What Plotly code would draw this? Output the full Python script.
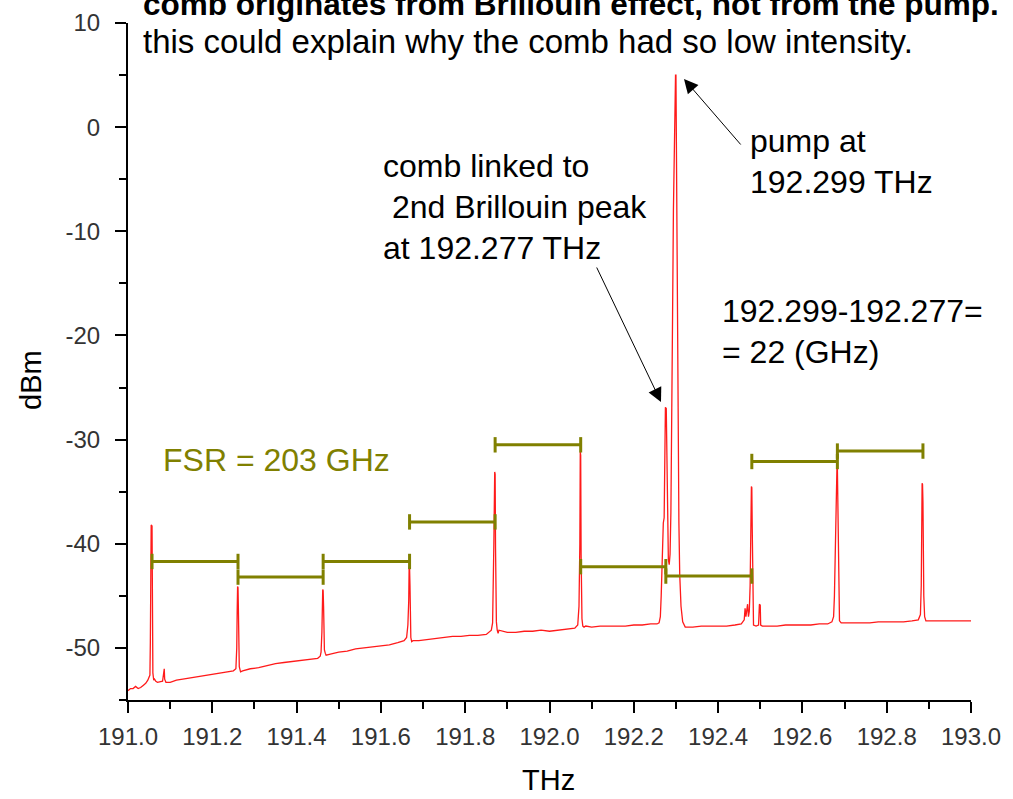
import plotly.graph_objects as go

# ---------------- data ----------------
freq_thz = [
    191.000, 191.006, 191.012, 191.018, 191.024, 191.030, 191.036, 191.042, 191.047, 191.050,
    191.052, 191.053, 191.054, 191.055, 191.057, 191.058, 191.059, 191.061, 191.063, 191.066,
    191.070, 191.082, 191.084, 191.086, 191.087, 191.090, 191.100, 191.115, 191.130, 191.145,
    191.160, 191.175, 191.190, 191.205, 191.220, 191.235, 191.250, 191.256, 191.258, 191.259,
    191.260, 191.261, 191.262, 191.263, 191.264, 191.267, 191.272, 191.290, 191.310, 191.330,
    191.350, 191.370, 191.390, 191.410, 191.430, 191.450, 191.456, 191.458, 191.460, 191.462,
    191.463, 191.464, 191.465, 191.466, 191.468, 191.470, 191.480, 191.500, 191.520, 191.540,
    191.560, 191.580, 191.600, 191.620, 191.640, 191.655, 191.661, 191.664, 191.666, 191.667,
    191.668, 191.669, 191.670, 191.671, 191.673, 191.676, 191.690, 191.710, 191.730, 191.750,
    191.770, 191.790, 191.810, 191.830, 191.850, 191.862, 191.865, 191.868, 191.870, 191.871,
    191.872, 191.873, 191.874, 191.876, 191.878, 191.880, 191.900, 191.920, 191.940, 191.960,
    191.980, 192.000, 192.020, 192.040, 192.060, 192.067, 192.070, 192.072, 192.073, 192.074,
    192.075, 192.076, 192.077, 192.079, 192.082, 192.086, 192.100, 192.120, 192.140, 192.160,
    192.180, 192.200, 192.220, 192.240, 192.255, 192.260, 192.263, 192.265, 192.267, 192.270,
    192.272, 192.274, 192.275, 192.277, 192.278, 192.280, 192.282, 192.284, 192.286, 192.288,
    192.290, 192.292, 192.294, 192.296, 192.298, 192.299, 192.300, 192.301, 192.303, 192.305,
    192.307, 192.309, 192.312, 192.316, 192.322, 192.340, 192.360, 192.380, 192.400, 192.420,
    192.440, 192.455, 192.462, 192.464, 192.466, 192.468, 192.470, 192.472, 192.474, 192.476,
    192.477, 192.478, 192.479, 192.480, 192.481, 192.482, 192.484, 192.490, 192.496, 192.498,
    192.500, 192.501, 192.505, 192.520, 192.540, 192.560, 192.580, 192.600, 192.620, 192.640,
    192.660, 192.670, 192.674, 192.676, 192.678, 192.680, 192.682, 192.683, 192.684, 192.685,
    192.686, 192.688, 192.692, 192.700, 192.720, 192.740, 192.760, 192.780, 192.800, 192.820,
    192.840, 192.860, 192.875, 192.880, 192.882, 192.884, 192.885, 192.886, 192.887, 192.888,
    192.890, 192.893, 192.900, 192.920, 192.940, 192.960, 192.980, 193.000,
]
power_dbm = [
    -54.1, -53.9, -53.9, -53.7, -53.9, -53.8, -53.6, -53.4, -53.1, -52.8,
    -52.6, -49.5, -44.0, -38.2, -38.3, -47.0, -52.4, -53.1, -53.0, -53.2,
    -53.3, -53.2, -52.2, -52.0, -53.0, -53.3, -53.3, -53.1, -53.0, -52.9,
    -52.8, -52.7, -52.6, -52.5, -52.4, -52.3, -52.2, -52.0, -50.0, -46.5,
    -44.1, -44.2, -46.5, -48.5, -51.8, -52.3, -52.2, -52.0, -51.9, -51.7,
    -51.5, -51.4, -51.3, -51.2, -51.1, -51.0, -50.8, -50.4, -48.5, -44.4,
    -44.5, -46.0, -48.8, -50.2, -50.5, -50.7, -50.6, -50.4, -50.3, -50.1,
    -50.0, -49.9, -49.8, -49.7, -49.5, -49.3, -49.0, -47.8, -45.5, -42.2,
    -42.3, -44.0, -47.0, -49.0, -49.4, -49.3, -49.3, -49.2, -49.1, -49.0,
    -48.9, -48.9, -48.8, -48.8, -48.7, -48.3, -47.6, -40.0, -33.1, -33.3,
    -40.5, -45.0, -47.5, -48.3, -48.6, -48.3, -48.5, -48.5, -48.4, -48.4,
    -48.3, -48.4, -48.3, -48.2, -48.1, -47.8, -46.0, -40.0, -31.2, -31.5,
    -41.0, -45.0, -47.2, -47.9, -48.0, -47.9, -48.0, -47.9, -47.9, -47.9,
    -47.9, -47.8, -47.8, -47.7, -47.7, -47.6, -47.0, -45.0, -42.0, -38.0,
    -37.5, -30.0, -26.9, -27.0, -31.0, -38.0, -41.5, -42.0, -41.0, -37.0,
    -30.0, -18.0, -8.0, -1.5, 3.0, 5.0, 5.0, -1.5, -15.0, -30.0,
    -38.0, -43.0, -46.0, -47.5, -48.0, -48.0, -47.9, -47.9, -47.9, -47.9,
    -47.8, -47.7, -47.3, -46.2, -47.0, -46.0, -45.8, -47.0, -46.5, -44.0,
    -40.0, -38.0, -34.5, -34.6, -38.5, -45.0, -47.8, -47.9, -47.8, -45.8,
    -45.9, -47.8, -47.9, -47.9, -47.9, -47.8, -47.8, -47.8, -47.8, -47.7,
    -47.7, -47.5, -47.0, -45.0, -40.0, -35.0, -32.6, -32.7, -37.0, -42.0,
    -46.5, -47.4, -47.6, -47.6, -47.6, -47.6, -47.6, -47.5, -47.5, -47.5,
    -47.5, -47.4, -47.3, -46.8, -44.0, -34.2, -34.3, -36.0, -41.0, -45.0,
    -47.0, -47.4, -47.4, -47.4, -47.4, -47.4, -47.4, -47.4,
]

# FSR markers: from one comb line to the next, at a given level
fsr_start = [191.057, 191.261, 191.463, 191.668, 191.871, 192.074, 192.276, 192.480, 192.683]
fsr_end = [191.261, 191.463, 191.668, 191.871, 192.074, 192.276, 192.480, 192.683, 192.886]
fsr_level = [-41.7, -43.2, -41.7, -37.9, -30.5, -42.2, -43.1, -32.1, -31.1]

x_ticks = [191.0, 191.2, 191.4, 191.6, 191.8, 192.0, 192.2, 192.4, 192.6, 192.8, 193.0]
y_ticks = [-50, -40, -30, -20, -10, 0, 10]

title_lines = [
    "<b>comb originates from Brillouin effect, not from the pump.</b>",
    "this could explain why the comb had so low intensity.",
]
comb_note = ["comb linked to", " 2nd Brillouin peak", "at 192.277 THz"]
pump_note = ["pump at", "192.299 THz"]
diff_note = ["192.299-192.277=", "= 22 (GHz)"]
fsr_note = "FSR = 203 GHz"
x_title = "THz"
y_title = "dBm"

# ---------------- figure ----------------
W, H = 1013, 799
L, R, T, B = 128, 42, 23, 99
PW, PH = W - L - R, H - T - B
FONT = "Arial, Liberation Sans, sans-serif"
OLIVE = "#808000"


def px(xp):
    return (xp - L) / PW


def py(yp):
    return (H - B - yp) / PH


fig = go.Figure()

fig.add_trace(go.Scatter(
    x=freq_thz, y=power_dbm, mode="lines",
    line=dict(color="#ff1a1a", width=1.3), showlegend=False, hoverinfo="skip",
))

for x0, x1, lv in zip(fsr_start, fsr_end, fsr_level):
    fig.add_trace(go.Scatter(
        x=[x0, x1], y=[lv, lv], mode="lines+markers",
        line=dict(color=OLIVE, width=3),
        marker=dict(symbol="line-ns", size=11, line=dict(color=OLIVE, width=3)),
        showlegend=False, hoverinfo="skip", cliponaxis=False,
    ))

ann = []


def text(s, x, y, size=32, color="black", xanchor="left", angle=0):
    ann.append(dict(text=s, x=px(x), y=py(y), xref="paper", yref="paper",
                    xanchor=xanchor, yanchor="middle", showarrow=False,
                    textangle=angle,
                    font=dict(family=FONT, size=size, color=color)))


text(title_lines[0], 141, 4, size=31.5)
text(title_lines[1], 141, 42, size=33)
for i, s in enumerate(comb_note):
    text(s, 381, 166 + i * 41)
for i, s in enumerate(pump_note):
    text(s, 748, 141 + i * 41)
for i, s in enumerate(diff_note):
    text(s, 720, 311 + i * 41)
text(fsr_note, 161, 460, color=OLIVE)
text(x_title, 548, 780, size=29, xanchor="center")
text(y_title, 31, 380, size=29, xanchor="center", angle=-90)

# arrows (head position, tail offset in px)
for hx, hy, tx, ty in [(684, 79, 742, 146), (661, 402, 596, 266)]:
    ann.append(dict(text="", x=px(hx), y=py(hy), xref="paper", yref="paper",
                    showarrow=True, ax=tx - hx, ay=ty - hy,
                    arrowhead=2, arrowsize=2.8, arrowwidth=1, arrowcolor="black"))

axis_common = dict(
    showline=True, linewidth=2, linecolor="black", mirror=False,
    showgrid=False, zeroline=False, ticks="outside", tickwidth=2,
    tickcolor="black", ticklen=11,
    tickfont=dict(family=FONT, size=24, color="#333333"),
)

fig.update_layout(
    width=W, height=H,
    margin=dict(l=L, r=R, t=T, b=B, autoexpand=False),
    paper_bgcolor="white", plot_bgcolor="white",
    annotations=ann,
    xaxis=dict(
        range=[191.0, 193.0], tickmode="array", tickvals=x_ticks,
        ticktext=[f"{v:.1f}" for v in x_ticks],
        minor=dict(dtick=0.1, tick0=191.0, ticks="outside", ticklen=7,
                   tickwidth=2, tickcolor="black"),
        ticklabelstandoff=3,
        **axis_common,
    ),
    yaxis=dict(
        range=[-55, 10], tickmode="array", tickvals=y_ticks,
        ticktext=[str(v) for v in y_ticks],
        minor=dict(dtick=5, tick0=0, ticks="outside", ticklen=7,
                   tickwidth=2, tickcolor="black"),
        ticklabelstandoff=10,
        **axis_common,
    ),
)

fig.write_html("out.html")
